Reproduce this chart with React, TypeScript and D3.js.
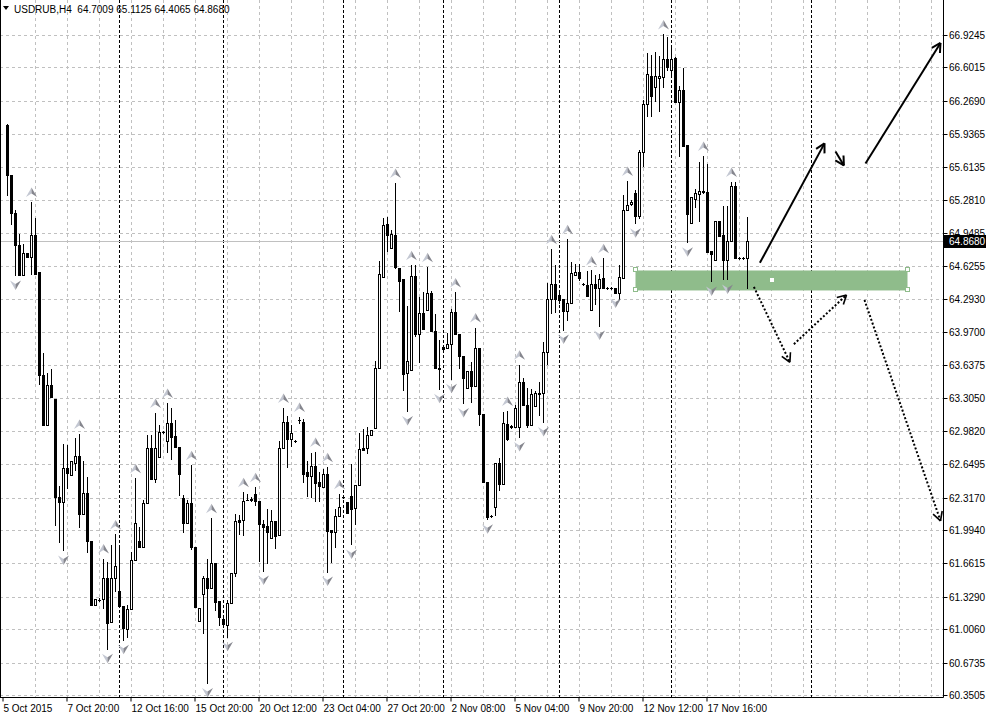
import React, { useEffect, useRef } from 'react';
import * as d3 from 'd3';

// USDRUB H4 candles (bar 0 = leftmost)
const openPrices = [
  66.03, 65.53, 65.15, 64.83, 64.53, 64.75, 64.71, 64.93, 64.56, 63.54,
  63.04, 63.44, 63.30, 62.32, 62.27, 62.61, 62.54, 62.66, 62.73, 62.15,
  62.36, 61.88, 61.25, 61.30, 61.31, 61.52, 61.08, 61.52, 61.39, 61.24,
  61.01, 61.21, 61.70, 61.88, 61.82, 62.26, 62.81, 62.50, 62.72, 62.97,
  62.88, 63.06, 62.93, 62.82, 62.31, 62.06, 62.26, 61.82, 61.09, 61.36,
  61.52, 61.42, 61.67, 61.29, 61.11, 61.05, 61.27, 61.57, 62.09, 62.09,
  62.29, 62.29, 62.35, 62.28, 62.05, 62.03, 61.91, 62.08, 61.94, 62.81,
  63.07, 62.90, 62.88, 63.09, 63.07, 62.57, 62.53, 62.63, 62.47, 62.42,
  62.55, 61.99, 61.97, 62.13, 62.32, 62.27, 62.33, 62.21, 62.44, 62.81,
  62.81, 62.94, 63.01, 63.61, 64.51, 65.04, 64.80, 64.93, 64.60, 64.49,
  63.56, 63.59, 64.52, 63.95, 64.16, 64.19, 64.35, 63.98, 63.61, 63.82,
  63.81, 63.85, 64.17, 63.95, 63.73, 63.41, 63.58, 63.43, 63.81, 63.15,
  62.47, 62.13, 62.22, 62.66, 62.45, 63.05, 63.02, 63.02, 63.02, 63.47,
  63.24, 63.04, 63.23, 63.36, 63.36, 63.77, 64.29, 64.44, 64.33, 64.29,
  64.18, 64.26, 64.53, 64.56, 64.44, 64.43, 64.19, 64.44, 64.40, 64.50,
  64.40, 64.40, 64.40, 64.35, 64.50, 65.18, 65.24, 65.35, 65.12, 65.76,
  66.24, 66.52, 66.41, 66.50, 66.51, 66.69, 66.58, 66.70, 66.26, 66.38,
  65.83, 65.05, 65.29, 65.34, 65.37, 65.36, 64.77, 64.68, 65.07, 64.93,
  64.68, 64.87, 65.42, 64.70, 64.70, 64.7009,
];

const highPrices = [
  66.04, 65.53, 65.18, 64.94, 64.84, 64.75, 65.26, 65.10, 64.56, 63.76,
  63.56, 63.60, 63.30, 62.43, 62.85, 62.84, 62.68, 62.91, 62.95, 62.68,
  62.52, 61.88, 61.31, 61.32, 61.71, 61.68, 61.84, 61.95, 61.84, 61.24,
  61.25, 61.77, 62.51, 62.02, 62.29, 62.94, 62.94, 63.16, 63.04, 62.98,
  63.26, 63.21, 63.09, 62.82, 62.34, 62.29, 62.64, 61.82, 61.22, 61.54,
  61.71, 62.11, 61.67, 61.29, 61.15, 61.30, 61.57, 62.15, 62.14, 62.37,
  62.35, 62.32, 62.42, 62.28, 62.09, 62.20, 62.19, 62.08, 62.88, 63.21,
  63.13, 63.04, 62.89, 63.12, 63.10, 62.68, 62.76, 62.77, 62.57, 62.60,
  62.62, 61.99, 62.20, 62.35, 62.33, 62.27, 62.65, 62.44, 62.96, 63.00,
  63.02, 62.99, 63.68, 64.67, 65.10, 65.11, 64.98, 65.45, 64.60, 64.49,
  64.23, 64.63, 64.63, 64.31, 64.36, 64.61, 64.37, 64.15, 63.89, 63.82,
  63.96, 64.20, 64.36, 63.95, 63.73, 63.58, 63.67, 64.01, 63.81, 63.15,
  62.47, 62.14, 62.66, 62.71, 63.17, 63.18, 63.04, 63.24, 63.64, 63.51,
  63.41, 63.40, 63.38, 63.47, 63.87, 64.45, 64.79, 64.63, 64.38, 64.29,
  64.89, 64.66, 64.64, 64.64, 64.45, 64.57, 64.58, 64.53, 64.54, 64.70,
  64.41, 64.41, 64.40, 64.63, 65.33, 65.47, 65.28, 65.38, 65.78, 66.28,
  66.75, 66.73, 66.76, 66.72, 66.93, 66.90, 66.82, 66.71, 66.42, 66.60,
  65.83, 65.31, 65.39, 65.66, 65.72, 65.64, 64.77, 65.07, 65.07, 65.22,
  65.22, 65.46, 65.46, 64.71, 64.71, 65.1125,
];

const lowPrices = [
  65.33, 65.04, 64.53, 64.53, 64.53, 64.71, 64.54, 64.54, 63.45, 63.04,
  63.04, 63.32, 62.04, 61.87, 61.79, 62.41, 62.54, 62.59, 62.02, 62.15,
  61.77, 61.25, 61.25, 61.29, 61.22, 60.81, 61.08, 61.39, 61.24, 60.90,
  60.93, 61.21, 61.70, 61.82, 61.82, 62.26, 62.50, 62.47, 62.72, 62.96,
  62.77, 62.70, 62.82, 62.34, 61.97, 62.06, 61.80, 61.23, 61.09, 60.97,
  60.47, 61.42, 61.20, 61.05, 61.06, 60.93, 61.27, 61.54, 61.95, 61.94,
  62.29, 62.28, 62.24, 61.69, 61.59, 61.67, 61.91, 61.81, 61.94, 62.81,
  62.62, 62.83, 62.87, 63.06, 62.47, 62.33, 62.32, 62.28, 62.28, 62.42,
  61.58, 61.68, 61.82, 62.13, 62.31, 62.16, 61.85, 62.05, 62.44, 62.79,
  62.76, 62.94, 63.01, 63.61, 64.51, 64.77, 64.80, 64.60, 64.18, 63.39,
  63.18, 63.59, 63.93, 63.67, 64.00, 64.19, 63.98, 63.61, 63.40, 63.80,
  63.81, 63.50, 63.95, 63.61, 63.26, 63.41, 63.27, 63.43, 63.04, 62.47,
  62.10, 62.12, 62.14, 62.39, 62.45, 62.89, 63.01, 63.02, 62.92, 63.24,
  63.02, 63.04, 63.23, 63.14, 63.07, 63.65, 64.16, 64.17, 64.26, 63.99,
  64.09, 64.26, 64.53, 64.48, 64.43, 64.32, 64.19, 64.25, 64.03, 64.40,
  64.39, 64.39, 64.35, 64.29, 64.50, 65.18, 65.23, 65.05, 65.10, 65.62,
  66.12, 66.12, 66.27, 66.17, 66.41, 66.58, 66.52, 66.26, 65.72, 65.82,
  64.86, 65.05, 65.21, 65.07, 65.35, 64.76, 64.47, 64.68, 64.92, 64.49,
  64.49, 64.87, 64.70, 64.69, 64.69, 64.4065,
];

const closePrices = [
  65.53, 65.15, 64.83, 64.53, 64.75, 64.71, 64.93, 64.54, 63.54, 63.04,
  63.44, 63.32, 62.32, 62.27, 62.61, 62.56, 62.68, 62.73, 62.15, 62.36,
  61.88, 61.25, 61.31, 61.30, 61.52, 61.07, 61.52, 61.64, 61.24, 61.02,
  61.21, 61.70, 62.06, 61.82, 62.26, 62.81, 62.50, 62.81, 62.97, 62.97,
  63.06, 62.92, 62.82, 62.55, 62.06, 62.26, 61.82, 61.23, 61.22, 61.52,
  61.42, 61.67, 61.28, 61.13, 61.06, 61.27, 61.57, 62.08, 62.07, 62.28,
  62.29, 62.30, 62.28, 62.05, 62.02, 61.97, 62.08, 61.93, 62.81, 63.07,
  62.90, 62.96, 62.88, 63.09, 62.55, 62.53, 62.63, 62.46, 62.43, 62.55,
  61.98, 61.97, 62.13, 62.22, 62.32, 62.16, 62.20, 62.44, 62.80, 62.79,
  62.94, 62.99, 63.61, 64.54, 65.03, 64.93, 64.94, 64.61, 64.47, 63.55,
  63.68, 64.52, 63.95, 64.16, 64.00, 64.35, 63.98, 63.61, 63.60, 63.80,
  63.85, 64.17, 63.95, 63.73, 63.51, 63.58, 63.43, 63.81, 63.15, 62.47,
  62.12, 62.13, 62.66, 62.45, 63.06, 62.90, 63.03, 63.21, 63.47, 63.24,
  63.04, 63.35, 63.36, 63.35, 63.77, 64.29, 64.44, 64.29, 64.28, 64.18,
  64.26, 64.55, 64.56, 64.50, 64.44, 64.32, 64.44, 64.40, 64.49, 64.40,
  64.40, 64.40, 64.35, 64.51, 65.18, 65.23, 65.26, 65.12, 65.76, 66.24,
  66.54, 66.32, 66.52, 66.52, 66.69, 66.61, 66.69, 66.26, 66.38, 65.82,
  65.14, 65.31, 65.35, 65.37, 65.36, 64.76, 64.74, 65.07, 64.92, 64.68,
  64.87, 65.42, 64.70, 64.70, 64.70, 64.868,
];

const priceTicks = [
  66.9245, 66.6015, 66.269, 65.9365, 65.6135, 65.281, 64.9485, 64.6255, 64.293, 63.97, 63.6375,
  63.305, 62.982, 62.6495, 62.317, 61.994, 61.6615, 61.329, 61.006, 60.6735, 60.3505,
];
const timeLabels = [
  '5 Oct 2015', '7 Oct 20:00', '12 Oct 16:00', '15 Oct 20:00', '20 Oct 12:00', '23 Oct 04:00',
  '27 Oct 20:00', '2 Nov 08:00', '5 Nov 04:00', '9 Nov 20:00', '12 Nov 12:00', '17 Nov 16:00',
];
const timeLabelBars = [-1, 15, 31, 47, 63, 79, 95, 111, 127, 143, 159, 175];
const separatorBars = [28, 54, 84, 109, 138, 166, 201];

const fractalUpBars = [6, 18, 24, 27, 32, 37, 40, 46, 51, 59, 62, 69, 73, 77, 80, 83, 97, 101, 105,
  112, 117, 125, 128, 136, 140, 146, 149, 155, 164, 174, 181];
const fractalDownBars = [2, 14, 25, 29, 50, 55, 64, 80, 86, 100, 108, 111, 114, 120, 128, 134, 139,
  148, 152, 157, 170, 176, 180];

// drawn objects: [bar, price, bar, price]
const zoneBars = [157, 225];
const zonePrices = [64.385, 64.584];
const solidArrows = [
  [188.1, 64.66, 204.25, 65.85],
  [207, 65.77, 209.1, 65.63],
  [214.5, 65.65, 233.25, 66.85],
];
const dottedArrows = [
  [186.6, 64.42, 195.6, 63.67],
  [196.6, 63.85, 209.75, 64.34],
  [214.25, 64.29, 233.25, 62.09],
];
const lastPrice = 64.868;
const titleText = 'USDRUB,H4  64.7009 65.1125 64.4065 64.8680';

const FONT = "'Liberation Sans', Arial, sans-serif";

const App = () => {
  const svgRef = useRef(null);

  useEffect(() => {
    document.body.style.margin = '0';
    const width = 986;
    const height = 717;
    const right = 943.5;
    const bottom = 697.5;

    const svg = d3.select(svgRef.current);
    svg.selectAll('*').remove();
    svg.append('rect').attr('width', width).attr('height', height).attr('fill', '#fff');

    const x = d3.scaleLinear().domain([0, 234]).range([7.5, 943.5]);
    const y = d3.scaleLinear().domain([60.3505, 66.9245]).range([695.5, 35.5]);
    const py = (p) => Math.floor(y(p)) + 0.5;

    // grid
    const grid = svg.append('g').attr('stroke', '#c0c0c0').attr('stroke-dasharray', '3 3');
    grid.selectAll('.hg')
      .data(priceTicks)
      .enter()
      .append('line')
      .attr('x1', 0).attr('x2', right)
      .attr('y1', (d) => py(d)).attr('y2', (d) => py(d));
    grid.selectAll('.vg')
      .data(d3.range(7, 234, 8))
      .enter()
      .append('line')
      .attr('x1', (d) => x(d)).attr('x2', (d) => x(d))
      .attr('y1', 0).attr('y2', bottom);

    // period separators
    svg.append('g')
      .selectAll('line')
      .data(separatorBars)
      .enter()
      .append('line')
      .attr('x1', (d) => x(d)).attr('x2', (d) => x(d))
      .attr('y1', 0).attr('y2', bottom)
      .attr('stroke', '#000')
      .attr('stroke-dasharray', '3 2');

    // zone rectangle (background object)
    svg.append('rect')
      .attr('x', x(zoneBars[0]))
      .attr('y', y(zonePrices[1]))
      .attr('width', x(zoneBars[1]) - x(zoneBars[0]))
      .attr('height', y(zonePrices[0]) - y(zonePrices[1]))
      .attr('fill', '#8fbc8b');

    // bid line
    svg.append('line')
      .attr('x1', 0).attr('x2', right)
      .attr('y1', py(lastPrice)).attr('y2', py(lastPrice))
      .attr('stroke', '#c0c0c0');

    // candles
    const idx = d3.range(closePrices.length);
    const candles = svg.append('g');
    candles.selectAll('.wick')
      .data(idx)
      .enter()
      .append('line')
      .attr('x1', (i) => x(i)).attr('x2', (i) => x(i))
      .attr('y1', (i) => Math.floor(y(highPrices[i])))
      .attr('y2', (i) => Math.floor(y(lowPrices[i])) + 1)
      .attr('stroke', '#000');
    idx.forEach((i) => {
      const o = openPrices[i];
      const c = closePrices[i];
      const top = py(Math.max(o, c));
      const bot = py(Math.min(o, c));
      if (bot - top < 1) {
        candles.append('line')
          .attr('x1', x(i) - 1.5).attr('x2', x(i) + 1.5)
          .attr('y1', top).attr('y2', top)
          .attr('stroke', '#000');
      } else {
        candles.append('rect')
          .attr('x', x(i) - 1).attr('width', 2)
          .attr('y', top).attr('height', bot - top)
          .attr('fill', c > o ? '#fff' : '#000')
          .attr('stroke', '#000');
      }
    });

    // fractals
    const fr = svg.append('g');
    const drawFractal = (cx, cy, up) => {
      const s = up ? 1 : -1;
      fr.append('path')
        .attr('d', `M${cx},${cy - 5 * s} L${cx},${cy + 1 * s} L${cx - 5.5},${cy + 4.5 * s} Z`)
        .attr('fill', '#c3c7d2');
      fr.append('path')
        .attr('d', `M${cx},${cy - 5 * s} L${cx + 5.5},${cy + 4.5 * s} L${cx},${cy + 1 * s} Z`)
        .attr('fill', '#85868e');
    };
    fractalUpBars.forEach((i) => drawFractal(x(i), y(highPrices[i]) - 10, true));
    fractalDownBars.forEach((i) => drawFractal(x(i), y(lowPrices[i]) + 9, false));

    // arrowed trend lines
    const arrows = svg.append('g').attr('stroke', '#000').attr('fill', 'none');
    const drawArrow = (a, dotted) => {
      const x1 = x(a[0]);
      const y1 = y(a[1]);
      const x2 = x(a[2]);
      const y2 = y(a[3]);
      arrows.append('line')
        .attr('x1', x1).attr('y1', y1).attr('x2', x2).attr('y2', y2)
        .attr('stroke-width', 2)
        .attr('stroke-dasharray', dotted ? '2 2' : null);
      const ang = Math.atan2(y2 - y1, x2 - x1);
      [-1, 1].forEach((s) => {
        const b = ang + Math.PI + s * 0.5;
        arrows.append('line')
          .attr('x1', x2).attr('y1', y2)
          .attr('x2', x2 + 10 * Math.cos(b)).attr('y2', y2 + 10 * Math.sin(b))
          .attr('stroke-width', dotted ? 1.6 : 2);
      });
    };
    solidArrows.forEach((a) => drawArrow(a, false));
    dottedArrows.forEach((a) => drawArrow(a, true));

    // selection handles of the zone
    const hx = [x(zoneBars[0]), x(zoneBars[1])];
    const hy = [y(zonePrices[1]), y(zonePrices[0])];
    hx.forEach((vx) => hy.forEach((vy) => {
      svg.append('rect')
        .attr('x', Math.round(vx) - 2.5).attr('y', Math.round(vy) - 2.5)
        .attr('width', 4).attr('height', 4)
        .attr('fill', '#fff').attr('stroke', '#8fbc8b');
    }));
    svg.append('rect')
      .attr('x', Math.round((hx[0] + hx[1]) / 2) - 2).attr('y', Math.round((hy[0] + hy[1]) / 2) - 2)
      .attr('width', 4).attr('height', 4)
      .attr('fill', '#fff');

    // frame
    const frame = svg.append('g').attr('stroke', '#000');
    frame.append('line').attr('x1', 0.5).attr('x2', 0.5).attr('y1', 0).attr('y2', bottom);
    frame.append('line').attr('x1', right).attr('x2', right).attr('y1', 0).attr('y2', bottom);
    frame.append('line').attr('x1', 0).attr('x2', right).attr('y1', bottom).attr('y2', bottom);

    // price axis
    const pa = svg.append('g').attr('font-family', FONT).attr('font-size', 10);
    priceTicks.forEach((p) => {
      pa.append('line')
        .attr('x1', right).attr('x2', right + 4)
        .attr('y1', py(p)).attr('y2', py(p))
        .attr('stroke', '#000');
      pa.append('text')
        .attr('x', 949).attr('y', py(p) + 3.5)
        .attr('fill', '#000')
        .text(d3.format('.4f')(p));
    });
    pa.append('rect')
      .attr('x', 944).attr('y', py(lastPrice) - 6.5)
      .attr('width', 42).attr('height', 13)
      .attr('fill', '#000');
    pa.append('text')
      .attr('x', 949).attr('y', py(lastPrice) + 3.5)
      .attr('fill', '#fff')
      .text(d3.format('.4f')(lastPrice));

    // time axis
    const ta = svg.append('g').attr('font-family', FONT).attr('font-size', 10);
    timeLabelBars.forEach((b, k) => {
      const tx = x(b) - 0.5;
      ta.append('line')
        .attr('x1', tx).attr('x2', tx)
        .attr('y1', bottom).attr('y2', bottom + 4)
        .attr('stroke', '#000');
      ta.append('text')
        .attr('x', tx + 0.5).attr('y', 712)
        .attr('fill', '#000')
        .text(timeLabels[k]);
    });

    // title
    svg.append('path').attr('d', 'M3,6 L9,6 L6,10 Z').attr('fill', '#000');
    svg.append('text')
      .attr('x', 14).attr('y', 13)
      .attr('font-family', FONT).attr('font-size', 10)
      .attr('fill', '#000')
      .attr('xml:space', 'preserve')
      .style('white-space', 'pre')
      .text(titleText);
  }, []);

  return <svg ref={svgRef} width={986} height={717} style={{ display: 'block' }} />;
};

export default App;
